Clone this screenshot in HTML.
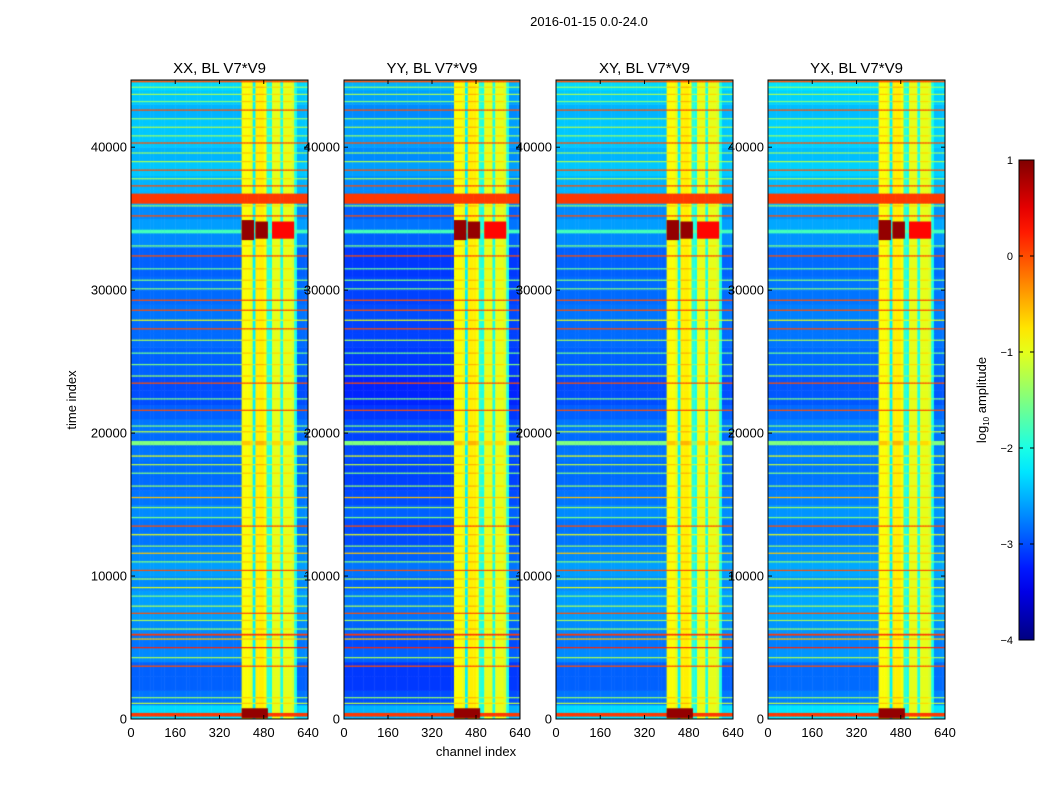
<!DOCTYPE html>
<html><head><meta charset="utf-8">
<style>
body{margin:0;background:#fff;width:1050px;height:800px;overflow:hidden;font-family:"Liberation Sans",sans-serif;}
canvas{position:absolute;}
svg{position:absolute;left:0;top:0;}
</style></head>
<body>
<canvas id="c0" width="177" height="639" style="left:131px;top:80px"></canvas>
<canvas id="c1" width="176" height="639" style="left:344px;top:80px"></canvas>
<canvas id="c2" width="177" height="639" style="left:556px;top:80px"></canvas>
<canvas id="c3" width="177" height="639" style="left:768px;top:80px"></canvas>
<svg id="ov" width="1050" height="800"></svg>
<script>
// ---- data ----
const panelTitles=["XX, BL V7*V9","YY, BL V7*V9","XY, BL V7*V9","YX, BL V7*V9"];
const panelOffsets=[0,-0.2,0,0.05];
const xTicks=[0,160,320,480,640];
const yTicks=[0,10000,20000,30000,40000];
const cbTicks=[1,0,-1,-2,-3,-4];
// base level per 1000 time units (45 bins)
const rowLevels=[-2.3,-2.8,-2.9,-2.9,-2.7,-2.8,-2.7,-2.6,-2.6,-2.7,-2.6,-2.7,-2.8,-2.8,-2.7,-2.8,-2.85,-2.85,-2.8,-2.85,-2.8,-2.9,-3.0,-3.0,-2.9,-2.9,-2.85,-2.85,-2.8,-2.85,-2.85,-2.9,-2.9,-2.7,-2.6,-2.7,-2.5,-2.5,-2.4,-2.5,-2.4,-2.4,-2.5,-2.4,-2.3];
// channel band level per 10-channel bin (null = background)
const chanLevels=[null,null,null,null,null,null,null,null,null,null,null,null,null,null,null,null,null,null,null,null,null,null,null,null,null,null,null,null,null,null,null,null,null,null,null,null,null,null,null,null,-0.9,-0.9,-0.9,-1.0,-2.2,-0.8,-0.8,-0.8,-0.9,-1.9,-2.0,-1.0,-1.0,-1.0,-2.0,-1.0,-1.0,-1.0,-1.1,-2.0,null,null,null,null];
// horizontal stripes: time, level, thickness (time units)
const stripeTimes=[300,1100,1500,3700,4300,5000,5600,5900,6300,6900,7400,7900,8600,9200,9800,10400,11000,11600,12100,12900,13500,14100,14800,15500,16300,17200,17800,18400,19300,20100,20500,21600,22400,23500,24000,24800,25600,26500,27300,27900,28600,29300,30100,30700,31500,32400,33100,34100,35200,35900,36400,37300,37800,38400,39000,39600,40300,40800,41400,42000,42600,43200,43700,44200,44600];
const stripeVals=[0.1,-1.2,-1.4,0.0,-1.3,0.2,-0.6,0.1,-1.4,-1.3,0.0,-1.3,-1.5,-1.0,-1.3,0.0,-1.5,-0.6,-1.4,-1.0,0.0,-1.5,-1.3,-0.6,-1.4,-1.5,-1.2,-1.0,-1.5,-1.2,-1.5,0.0,-1.5,0.0,-1.4,-1.5,-1.6,-1.3,0.0,-1.0,0.0,0.0,-1.5,-1.5,-1.6,0.0,-1.5,-1.8,0.0,-1.4,0.1,0.0,-1.3,0.0,-1.3,-1.4,0.0,-1.4,-1.3,-1.4,0.0,-1.5,-1.3,-1.4,0.0];
const stripeWidths=[250,70,70,70,70,70,70,120,70,70,70,70,70,70,70,70,70,70,70,70,70,70,70,70,70,70,70,70,300,70,70,70,70,70,70,70,70,70,70,70,70,70,70,70,70,70,70,250,70,70,700,70,70,70,70,70,70,70,70,70,70,70,70,70,120];
// hot blobs
const blobTimes=[34200,34200,34200,400];
const blobHalf=[700,600,600,350];
const blobC0=[400,450,510,400];
const blobC1=[445,495,590,495];
const blobVals=[0.9,0.9,0.35,0.9];

const TMAX=44700;
function jet(v){let t=(v+4)/5;t=Math.max(0,Math.min(1,t));
 const f=(x)=>Math.max(0,Math.min(1,x));
 const r=f(Math.min(4*t-1.5,-4*t+4.5)),g=f(Math.min(4*t-0.5,-4*t+3.5)),b=f(Math.min(4*t+0.5,-4*t+2.5));
 return 'rgb('+Math.round(r*255)+','+Math.round(g*255)+','+Math.round(b*255)+')';}

for(let p=0;p<4;p++){
 const cv=document.getElementById('c'+p),ctx=cv.getContext('2d');
 const W=cv.width,H=cv.height;
 const xs=c=>c/640*W, ys=t=>H-t/TMAX*H;
 const off=panelOffsets[p];
 for(let i=0;i<rowLevels.length;i++){
  for(let j=0;j<chanLevels.length;j++){
   const lev=chanLevels[j];let v=rowLevels[i]+off;
   if(lev!==null)v=Math.max(lev,v);
   ctx.fillStyle=jet(v);
   const x0=xs(j*10),x1=xs(j*10+10),y0=ys((i+1)*1000),y1=ys(i*1000);
   ctx.fillRect(x0,y0,x1-x0+0.5,y1-y0+0.5);
  }
 }
 for(let k=0;k<stripeTimes.length;k++){
  const y0=ys(stripeTimes[k]+stripeWidths[k]/2),y1=ys(stripeTimes[k]-stripeWidths[k]/2);
  const h=Math.max(1.2,y1-y0);
  for(let j=0;j<chanLevels.length;j++){
   const lev=chanLevels[j];let v=stripeVals[k];
   if(lev!==null)v=Math.max(v,lev+0.3);
   ctx.fillStyle=jet(v);
   ctx.fillRect(xs(j*10),y0,xs(10)+0.5,h);
  }
 }
 for(let k=0;k<blobTimes.length;k++){
  ctx.fillStyle=jet(blobVals[k]);
  const y0=ys(blobTimes[k]+blobHalf[k]),y1=ys(blobTimes[k]-blobHalf[k]);
  ctx.fillRect(xs(blobC0[k]),y0,xs(blobC1[k])-xs(blobC0[k]),y1-y0);
 }
}

// ---- axes overlay ----
const NS="http://www.w3.org/2000/svg";const ov=document.getElementById('ov');
function mk(tag,attrs,txt){const e=document.createElementNS(NS,tag);for(const a in attrs)e.setAttribute(a,attrs[a]);if(txt!==undefined)e.textContent=txt;ov.appendChild(e);return e;}
const panelX=[131,344,556,768],panelW=[177,176,177,177],plotTop=80,plotBot=719;
const tt=mk('text',{x:589,y:26,'font-size':13,'text-anchor':'middle'},'2016-01-15 0.0-24.0');


for(let p=0;p<4;p++){
 const x0=panelX[p],w=panelW[p];
 const fr=mk('rect',{x:x0,y:plotTop,width:w,height:plotBot-plotTop,fill:'none',stroke:'#000','stroke-width':1});
 
 
 const ti=mk('text',{x:x0+w/2,y:73,'font-size':15,'text-anchor':'middle'},panelTitles[p]);
 
 
 xTicks.forEach(v=>{const x=x0+v/640*w;
  mk('line',{x1:x,x2:x,y1:plotBot,y2:plotBot-4,stroke:'#000'});mk('line',{x1:x,x2:x,y1:plotTop,y2:plotTop+4,stroke:'#000'});
  const t=mk('text',{x:x,y:737,'font-size':13,'text-anchor':'middle'},String(v));
  
  });
 yTicks.forEach(v=>{const y=plotBot-v/TMAX*(plotBot-plotTop);
  mk('line',{x1:x0,x2:x0+4,y1:y,y2:y,stroke:'#000'});mk('line',{x1:x0+w,x2:x0+w-4,y1:y,y2:y,stroke:'#000'});
  const t=mk('text',{x:x0-4,y:y+4.5,'font-size':13,'text-anchor':'end'},String(v));
  
  });
}
const yl=mk('text',{x:76,y:400,'font-size':13,'text-anchor':'middle',transform:'rotate(-90 76 400)'},'time index');


const xl=mk('text',{x:476,y:756,'font-size':13,'text-anchor':'middle'},'channel index');


// colorbar
const defs=mk('defs',{});const lg=document.createElementNS(NS,'linearGradient');lg.setAttribute('id','jg');lg.setAttribute('x1',0);lg.setAttribute('y1',1);lg.setAttribute('x2',0);lg.setAttribute('y2',0);defs.appendChild(lg);
for(let i=0;i<=20;i++){const s=document.createElementNS(NS,'stop');s.setAttribute('offset',i/20);s.setAttribute('stop-color',jet(-4+5*i/20));lg.appendChild(s);}
const cb=mk('rect',{x:1019,y:160,width:15,height:480,fill:'url(#jg)',stroke:'#000','stroke-width':1});


cbTicks.forEach(v=>{const y=640-(v+4)/5*480;
 mk('line',{x1:1019,x2:1023,y1:y,y2:y,stroke:'#000'});mk('line',{x1:1034,x2:1030,y1:y,y2:y,stroke:'#000'});
 const t=mk('text',{x:1013,y:y+4,'font-size':11,'text-anchor':'end'},v<0?'\u2212'+(-v):String(v));
 
 });
const cbl=mk('text',{x:986,y:400,'font-size':13,'text-anchor':'middle',transform:'rotate(-90 986 400)'});
cbl.innerHTML='log<tspan font-size="8" dy="3">10</tspan><tspan dy="-3"> amplitude</tspan>';


</script>
</body></html>
